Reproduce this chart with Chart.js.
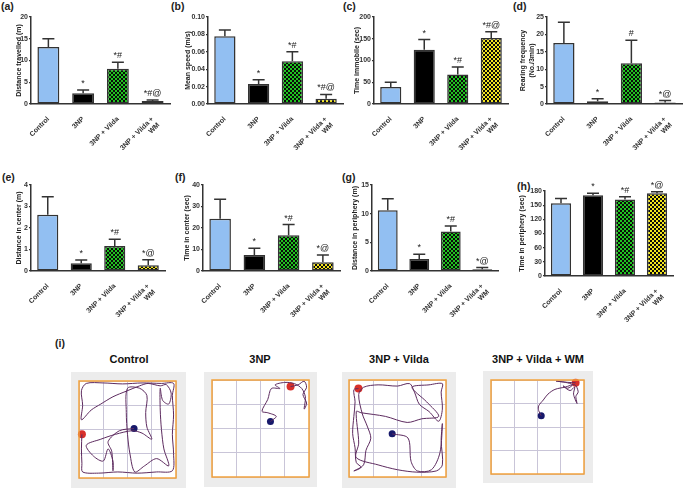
<!DOCTYPE html>
<html>
<head>
<meta charset="utf-8">
<script src="https://cdn.jsdelivr.net/npm/chart.js@4.4.1/dist/chart.umd.min.js"></script>
<style>
  body { margin: 0; background: #fff; width: 684px; height: 488px; position: relative; overflow: hidden;
         font-family: "Liberation Sans", Arial, sans-serif; }
  canvas { position: absolute; }
  .lbl { position: absolute; font-weight: bold; font-size: 10.5px; line-height: 1; color: #222; }
  .ttl { position: absolute; font-weight: bold; font-size: 11px; line-height: 1; color: #111;
         transform: translateX(-50%); white-space: nowrap; }
  .gray { position: absolute; background: #ececec; }
</style>
</head>
<body>

<div class="lbl" style="left:1px;top:1px">(a)</div>
<div class="lbl" style="left:171px;top:1px">(b)</div>
<div class="lbl" style="left:343px;top:1px">(c)</div>
<div class="lbl" style="left:513px;top:1px">(d)</div>
<div class="lbl" style="left:2px;top:172px">(e)</div>
<div class="lbl" style="left:175px;top:172px">(f)</div>
<div class="lbl" style="left:342px;top:172px">(g)</div>
<div class="lbl" style="left:517px;top:181px">(h)</div>
<div class="lbl" style="left:55px;top:338px">(i)</div>

<canvas id="a"></canvas>
<canvas id="b"></canvas>
<canvas id="c"></canvas>
<canvas id="d"></canvas>
<canvas id="e"></canvas>
<canvas id="f"></canvas>
<canvas id="g"></canvas>
<canvas id="h"></canvas>

<div class="ttl" style="left:129px;top:354px">Control</div>
<div class="ttl" style="left:260px;top:354px">3NP</div>
<div class="ttl" style="left:399px;top:354px">3NP + Vilda</div>
<div class="ttl" style="left:538px;top:354px">3NP + Vilda + WM</div>

<div class="gray" style="left:71px;top:372px;width:115px;height:116px"></div>
<div class="gray" style="left:204px;top:372px;width:113px;height:115px"></div>
<div class="gray" style="left:342px;top:372px;width:114px;height:116px"></div>
<div class="gray" style="left:483px;top:371px;width:110px;height:112px"></div>
<canvas id="t1"></canvas>
<canvas id="t2"></canvas>
<canvas id="t3"></canvas>
<canvas id="t4"></canvas>

<script>
// groups on the x axis
const groups = ['Control', '3NP', '3NP + Vilda', ['3NP + Vilda +', 'WM']];

// (a) distance travelled (m)
const distMean = [13.1, 2.5, 8.1, 0.7];
const distSem = [1.9, 0.7, 1.5, 0.2];
const distMarks = ['', '*', '*#', '*#@'];

// (b) mean speed (m/s)
const speedMean = [0.078, 0.023, 0.049, 0.006];
const speedSem = [0.007, 0.005, 0.011, 0.005];
const speedMarks = ['', '*', '*#', '*#@'];

// (c) time immobile (sec)
const immobMean = [39, 125, 68, 152];
const immobSem = [11, 23, 17, 14];
const immobMarks = ['', '*', '*#', '*#@'];

// (d) rearing frequency (No./3min)
const rearMean = [17.5, 0.8, 11.7, 0.4];
const rearSem = [6.0, 0.7, 6.6, 0.6];
const rearMarks = ['', '*', '#', '*@'];

// (e) distance in center (m)
const centDistMean = [2.62, 0.36, 1.16, 0.27];
const centDistSem = [0.83, 0.15, 0.32, 0.25];
const centDistMarks = ['', '*', '*#', '*@'];

// (f) time in center (sec)
const centTimeMean = [24.3, 7.5, 16.6, 4.1];
const centTimeSem = [9.1, 3.1, 5.0, 3.3];
const centTimeMarks = ['', '*', '*#', '*@'];

// (g) distance in periphery (m)
const perDistMean = [10.6, 2.1, 6.9, 0.3];
const perDistSem = [2.0, 0.8, 0.95, 0.3];
const perDistMarks = ['', '*', '*#', '*@'];

// (h) time in periphery (sec)
const perTimeMean = [154, 171, 162, 175];
const perTimeSem = [10, 4, 6, 3.5];
const perTimeMarks = ['', '*', '*#', '*@'];

// (i) tracks in grid units (4 x 4 arena), first point = red dot, last point = blue dot
const controlTrack = [[0.12,2.2],[0.1,2.8],[0.12,3.4],[0.15,3.75],[0.8,3.8],[1.6,3.75],[2.4,3.8],[3.2,3.75],
  [3.85,3.7],[3.9,3.0],[3.85,2.2],[3.9,1.4],[3.85,0.6],[3.9,0.1],[3.4,0.1],[2.6,0.08],[1.8,0.12],[1.0,0.08],
  [0.3,0.1],[0.1,0.4],[0.15,1.0],[0.1,1.6],[0.5,1.2],[0.9,0.95],[1.4,0.65],[1.95,0.42],[2.5,0.2],[2.85,0.1],
  [3.35,0.2],[3.6,0.15],[3.8,0.5],[3.7,0.95],[3.45,0.8],[3.35,0.3],[3.35,1.2],[3.4,2.0],[3.5,2.8],[3.7,3.5],
  [3.2,3.2],[2.7,3.5],[2.3,3.75],[2.1,3.0],[2.0,2.2],[1.95,1.3],[2.0,0.3],[2.5,0.3],[2.8,0.6],[2.75,1.3],
  [2.8,1.9],[3.0,2.4],[2.6,2.15],[2.2,2.05],[1.5,2.2],[0.9,2.4],[0.3,2.65],[0.6,3.1],[1.0,3.3],[1.2,2.8],
  [1.4,3.3],[1.4,3.7],[1.35,2.9],[1.2,2.5],[1.67,2.05],[2.27,1.96]];
const np3Track = [[3.24,0.27],[3.55,0.2],[3.8,0.05],[3.9,0.3],[3.75,0.6],[3.9,0.95],[3.8,1.2],[3.85,0.7],[3.7,0.35],
  [3.4,0.15],[3.0,0.1],[2.6,0.2],[2.8,0.35],[2.45,0.35],[2.3,0.8],[2.06,1.29],[2.3,1.35],[2.65,1.5],[2.41,1.71]];
const vildaTrack = [[0.39,0.35],[0.2,0.4],[0.25,0.9],[0.2,1.5],[0.15,2.2],[0.25,2.8],[0.3,3.4],[0.5,3.6],[0.2,3.75],
  [0.6,3.5],[0.7,2.9],[0.9,2.4],[0.75,1.9],[0.55,1.4],[0.4,0.6],[0.6,0.3],[1.2,0.2],[2.0,0.25],[2.5,0.15],[2.7,0.5],
  [2.9,1.0],[3.3,1.3],[3.7,1.7],[3.85,1.2],[3.8,0.5],[3.85,0.15],[3.3,0.2],[2.6,0.3],[3.2,0.9],[3.7,1.5],[3.0,1.6],
  [2.4,1.75],[1.5,1.5],[0.5,1.35],[0.3,1.3],[0.4,2.6],[0.3,3.2],[1.2,3.5],[2.0,3.7],[2.8,3.8],[3.6,3.75],[3.85,3.5],
  [3.8,2.5],[3.85,1.8],[3.75,3.0],[3.4,3.7],[2.82,3.75],[2.56,3.36],[2.43,2.39],[1.78,2.22]];
const wmTrack = [[3.64,0.12],[3.3,0.1],[2.8,0.05],[3.2,0.1],[3.5,0.2],[3.3,0.35],[3.1,0.25],[3.4,0.45],[3.6,0.3],
  [3.55,0.6],[3.7,1.0],[3.65,0.7],[3.75,0.5],[3.6,0.2],[3.2,0.3],[2.75,0.4],[2.45,0.6],[2.25,0.85],[2.05,1.1],
  [2.05,1.3],[2.16,1.52]];

const FONT = '"Liberation Sans", Arial, sans-serif';
Chart.defaults.font.family = FONT;
Chart.defaults.color = '#333';

function checker(c1, c2, cell) {
  const p = document.createElement('canvas');
  p.width = cell * 2; p.height = cell * 2;
  const g = p.getContext('2d');
  g.fillStyle = c1; g.fillRect(0, 0, cell * 2, cell * 2);
  g.fillStyle = c2; g.fillRect(0, 0, cell, cell); g.fillRect(cell, cell, cell, cell);
  return g.createPattern(p, 'repeat');
}
const fills = ['#92bff2', '#000000', checker('#1fc41f', '#0a0a0a', 2), checker('#f2e51e', '#0a0a0a', 2)];

// error bars (upper only) and significance marks
const errorBars = {
  id: 'errorBars',
  afterDatasetsDraw(chart) {
    const { ctx } = chart;
    const y = chart.scales.y;
    const ds = chart.data.datasets[0];
    ctx.save();
    ctx.strokeStyle = '#333';
    ctx.lineWidth = 1.5;
    ctx.fillStyle = '#222';
    ctx.font = '9px ' + FONT;
    ctx.textAlign = 'center';
    ctx.textBaseline = 'alphabetic';
    chart.getDatasetMeta(0).data.forEach((bar, i) => {
      const top = y.getPixelForValue(ds.data[i] + ds.sem[i]);
      ctx.beginPath();
      ctx.moveTo(bar.x, bar.y);
      ctx.lineTo(bar.x, top);
      ctx.moveTo(bar.x - 6, top);
      ctx.lineTo(bar.x + 6, top);
      ctx.stroke();
      if (ds.marks[i]) ctx.fillText(ds.marks[i], bar.x, top - 4);
    });
    ctx.restore();
  },
};

function barPanel(id, box, mean, sem, marks, title, yMax, step, decimals) {
  const cv = document.getElementById(id);
  cv.width = box.w; cv.height = box.h;
  cv.style.left = box.left + 'px'; cv.style.top = box.top + 'px';
  new Chart(cv, {
    type: 'bar',
    data: {
      labels: groups,
      datasets: [{
        data: mean, sem: sem, marks: marks,
        backgroundColor: fills, borderColor: '#333', borderWidth: 1.5, borderSkipped: false,
        barPercentage: 0.63, categoryPercentage: 1,
      }],
    },
    options: {
      responsive: false, animation: false, events: [],
      layout: { padding: { top: box.pad, right: 2, left: 0, bottom: 0 } },
      plugins: { legend: { display: false }, tooltip: { enabled: false } },
      scales: {
        x: {
          afterFit(s) { s.height = box.xH; },
          grid: { display: false },
          border: { color: '#333', width: 1.5 },
          ticks: { minRotation: 45, maxRotation: 45, padding: 3, autoSkip: false,
                   font: { size: 7, weight: 'bold' }, color: '#333' },
        },
        y: {
          min: 0, max: yMax,
          afterFit(s) { s.width = box.yW; },
          grid: { drawOnChartArea: false, drawTicks: true, tickLength: 2, color: '#333', lineWidth: 1.2 },
          border: { color: '#333', width: 1.5 },
          ticks: { stepSize: step, padding: 1, font: { size: 7, weight: 'bold' }, color: '#333',
                   callback: v => v.toFixed(decimals) },
          title: { display: true, text: title, font: { size: 7, weight: 'bold' }, color: '#222',
                   padding: { top: 0, bottom: 0 } },
        },
      },
    },
    plugins: [errorBars],
  });
}

barPanel('a', { left: 15, top: 8, w: 157, h: 142, pad: 9, yW: 16, xH: 46 }, distMean, distSem, distMarks,
  'Distance travelled (m)', 20, 5, 0);
barPanel('b', { left: 184, top: 8, w: 161, h: 142, pad: 9, yW: 24, xH: 46 }, speedMean, speedSem, speedMarks,
  'Mean speed (m/s)', 0.1, 0.02, 2);
barPanel('c', { left: 353, top: 8, w: 157, h: 142, pad: 9, yW: 21, xH: 46 }, immobMean, immobSem, immobMarks,
  'Time immobile (sec)', 200, 50, 0);
barPanel('d', { left: 519, top: 8, w: 165, h: 142, pad: 9, yW: 28, xH: 46 }, rearMean, rearSem, rearMarks,
  ['Rearing frequency', '(No./3min)'], 25, 5, 0);
barPanel('e', { left: 15, top: 176, w: 152, h: 141, pad: 9, yW: 16, xH: 46 }, centDistMean, centDistSem, centDistMarks,
  'Distance in center (m)', 4, 1, 0);
barPanel('f', { left: 183, top: 176, w: 159, h: 141, pad: 9, yW: 20, xH: 46 }, centTimeMean, centTimeSem, centTimeMarks,
  'Time in center (sec)', 40, 10, 0);
barPanel('g', { left: 351, top: 176, w: 149, h: 141, pad: 9, yW: 21, xH: 46 }, perDistMean, perDistSem, perDistMarks,
  'Distance in periphery (m)', 15, 5, 0);
barPanel('h', { left: 518, top: 172, w: 157, h: 150, pad: 19, yW: 27, xH: 46 }, perTimeMean, perTimeSem, perTimeMarks,
  'Time in periphery (sec)', 180, 30, 0);

// white arena floor and orange outline
const arenaBorder = {
  id: 'arenaBorder',
  beforeDraw(chart) {
    const { ctx, chartArea: a } = chart;
    ctx.save();
    ctx.fillStyle = '#ffffff';
    ctx.fillRect(a.left, a.top, a.right - a.left, a.bottom - a.top);
    ctx.restore();
  },
  afterDraw(chart) {
    const { ctx, chartArea: a } = chart;
    ctx.save();
    ctx.strokeStyle = '#f2a23c';
    ctx.lineWidth = 1.5;
    ctx.strokeRect(a.left, a.top, a.right - a.left, a.bottom - a.top);
    ctx.restore();
  },
};

function trackPanel(id, box, path) {
  const cv = document.getElementById(id);
  cv.width = box.w; cv.height = box.h;
  cv.style.left = box.left + 'px'; cv.style.top = box.top + 'px';
  const pts = path.map(p => ({ x: p[0], y: p[1] }));
  const axis = (horizontal) => ({
    type: 'linear', min: 0, max: 4, reverse: !horizontal,
    afterFit(s) { if (horizontal) s.height = 0; else s.width = 0; },
    ticks: { display: false, stepSize: 1 },
    grid: { color: '#c9c5d8', lineWidth: 1, drawTicks: false },
    border: { display: false },
  });
  new Chart(cv, {
    type: 'scatter',
    data: {
      datasets: [
        { data: pts, showLine: true, borderColor: '#5d2b5f', borderWidth: 1, pointRadius: 0, tension: 0.3, clip: false },
        { data: [pts[pts.length - 1]], pointRadius: 3.5, backgroundColor: '#17196b', borderWidth: 0, clip: false },
        { data: [pts[0]], pointRadius: 4, backgroundColor: '#d8302b', borderWidth: 0, clip: false },
      ],
    },
    options: {
      responsive: false, animation: false, events: [],
      layout: { padding: 1 },
      plugins: { legend: { display: false }, tooltip: { enabled: false } },
      scales: { x: axis(true), y: axis(false) },
    },
    plugins: [arenaBorder],
  });
}

trackPanel('t1', { left: 75, top: 377, w: 105, h: 105 }, controlTrack);
trackPanel('t2', { left: 208, top: 376, w: 105, h: 105 }, np3Track);
trackPanel('t3', { left: 345, top: 376, w: 105, h: 105 }, vildaTrack);
trackPanel('t4', { left: 487, top: 376, w: 101, h: 102 }, wmTrack);
</script>
</body>
</html>
